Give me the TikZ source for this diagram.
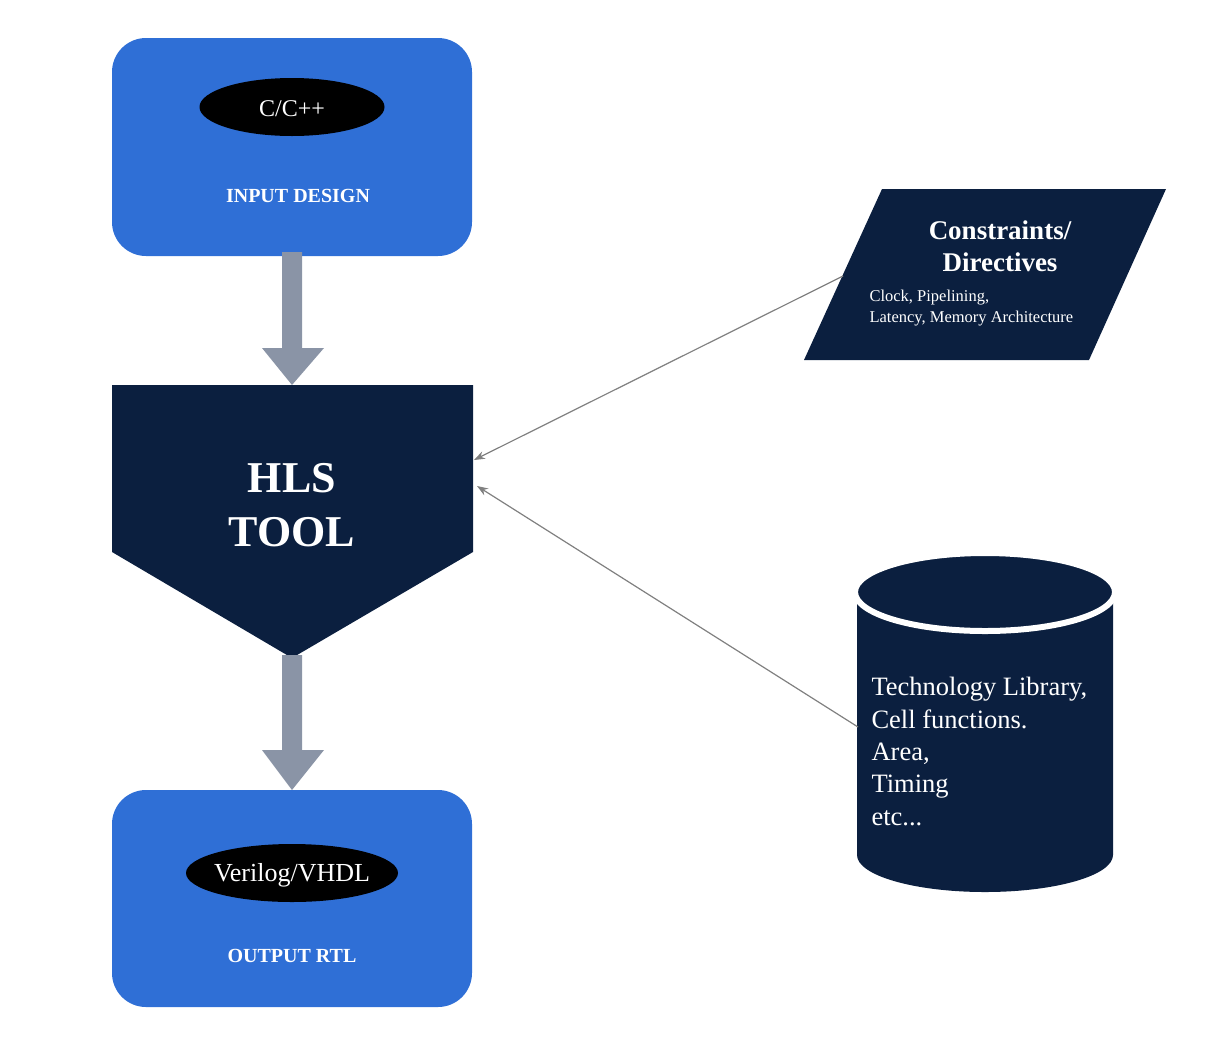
\documentclass[tikz,border=0pt]{standalone}
\usepackage{fontspec}
\setmainfont{Liberation Serif}
\usetikzlibrary{arrows.meta}
\definecolor{boxblue}{HTML}{2F6FD6}
\definecolor{navy}{HTML}{0B1F3F}
\definecolor{arrgray}{HTML}{8A94A6}
\tikzset{
  bluebox/.style={fill=boxblue,draw=none,rounded corners=34pt},
  boxcaption/.style={text=white,font=\bfseries\fontsize{20}{24}\selectfont},
  fatarrow/.style={fill=arrgray,draw=none},
  conn/.style={draw=gray,line width=1.2pt,-{Stealth[length=11pt,width=8pt]}}
}
\begin{document}
\begin{tikzpicture}[x=1pt,y=-1pt]
\useasboundingbox (0,0) rectangle (1229,1045);
% input box
\fill[bluebox] (112,38) rectangle (472,256);
\fill[black] (292,107) ellipse[x radius=92.5,y radius=29];
\node[text=white,font=\fontsize{24}{26}\selectfont] (cpp) at (292,109) {C/C++};
\node[boxcaption] (ind) at (298,196) {INPUT DESIGN};
% arrow 1
\fill[fatarrow] (282,252) -- (302,252) -- (302,348) -- (324,348) -- (292,385) -- (262,348) -- (282,348) -- cycle;
% HLS
\fill[navy] (112,385) -- (473,385) -- (473,552) -- (292,658) -- (112,552) -- cycle;
\node[text=white,font=\bfseries\fontsize{44}{54}\selectfont,align=center] (hls) at (292,505) {HLS\\TOOL};
\coordinate (hlsA) at (474,460);
\coordinate (hlsB) at (477,486);
% arrow 2
\fill[fatarrow] (282,655) -- (302,655) -- (302,750) -- (324,750) -- (292,790) -- (262,750) -- (282,750) -- cycle;
% output box
\fill[bluebox] (112,790) rectangle (472,1007);
\fill[black] (292,873) ellipse[x radius=106,y radius=29];
\node[text=white,font=\fontsize{26}{28}\selectfont] (vhdl) at (292,875) {Verilog/VHDL};
\node[boxcaption] (ortl) at (292,956) {OUTPUT RTL};
% parallelogram
\fill[navy] (882,189) -- (1166,189) -- (1089,360) -- (804,360) -- cycle;
\node[text=white,font=\bfseries\fontsize{27}{32}\selectfont,align=center] (cons) at (1000,246) {Constraints/\\Directives};
\node[text=white,font=\fontsize{16.5}{21}\selectfont,align=left,anchor=west] (clk) at (866,308) {Clock, Pipelining,\\Latency, Memory Architecture};
\coordinate (consP) at (843,276);
% cylinder
\fill[navy] (857,600) -- (857,855) arc[start angle=180,end angle=0,x radius=128,y radius=37] -- (1113,600) -- cycle;
\draw[white,line width=6pt,fill=navy] (985,592) ellipse[x radius=130,y radius=39];
\node[text=white,font=\fontsize{26.5}{32.3}\selectfont,align=left,anchor=north west] (tech) at (868,674) {Technology Library,\\Cell functions.\\Area,\\Timing\\etc...};
\coordinate (libP) at (858,727);
% connectors
\draw[conn] (consP) -- (hlsA);
\draw[conn] (libP) -- (hlsB);
\end{tikzpicture}
\end{document}
